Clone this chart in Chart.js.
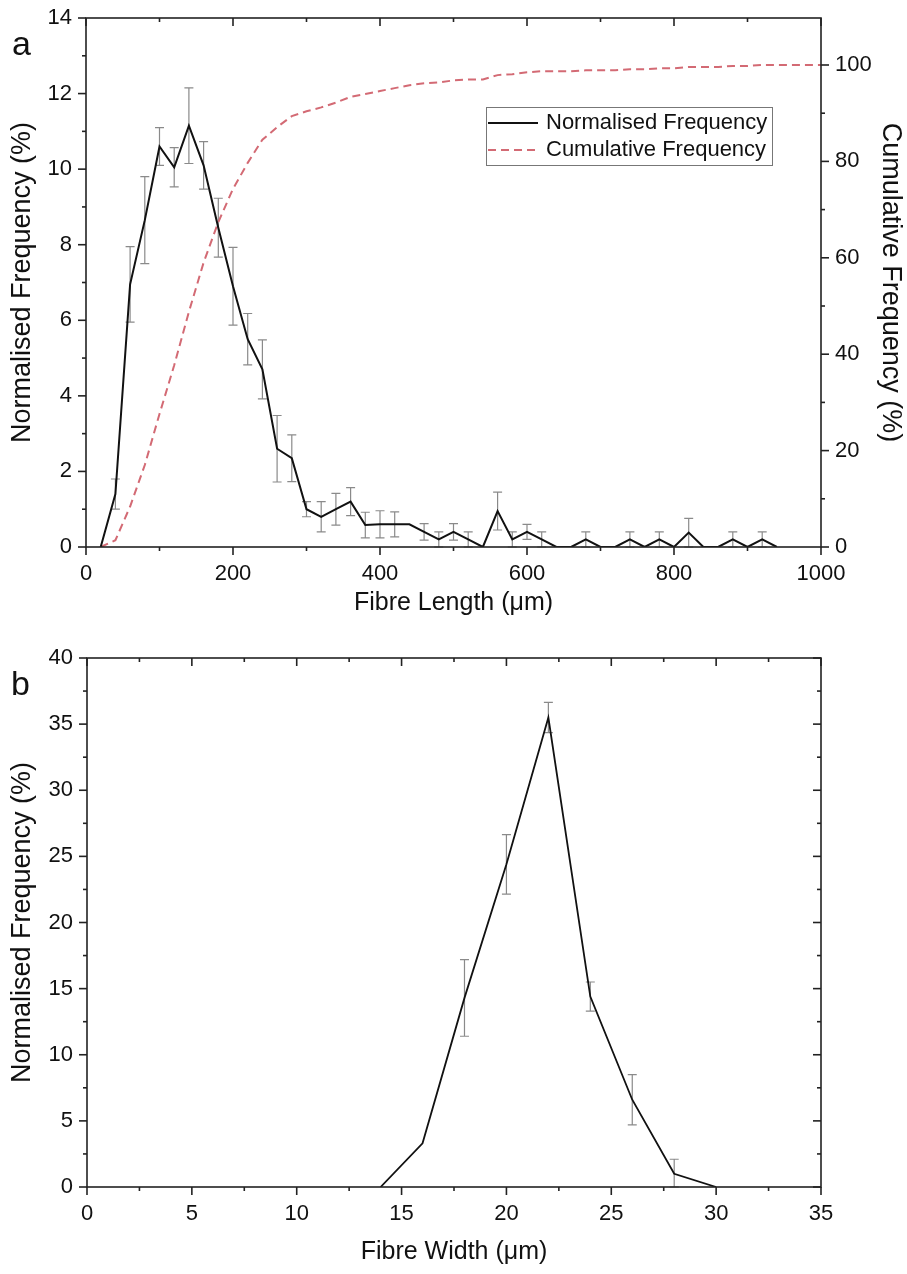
<!DOCTYPE html>
<html>
<head>
<meta charset="utf-8">
<script src="https://cdn.jsdelivr.net/npm/chart.js@4.4.1/dist/chart.umd.min.js"></script>
<style>
  body { margin: 0; background: #fff; }
  #wrap { position: relative; width: 907px; height: 1274px; }
  canvas { position: absolute; left: 0; }
  #lengthChart { top: 0; }
  #widthChart { top: 630px; }
  .panel { position: absolute; font-family: "Liberation Sans", Arial, sans-serif; font-size: 34px; line-height: 38px; color: #111; }
</style>
</head>
<body>
<div id="wrap">
  <canvas id="lengthChart" width="907" height="630"></canvas>
  <canvas id="widthChart" width="907" height="644"></canvas>
  <div class="panel" style="left:12px; top:24px;">a</div>
  <div class="panel" style="left:11px; top:664px;">b</div>
</div>
<script>
// panel a - fibre length
const lengthBins = [20, 40, 60, 80, 100, 120, 140, 160, 180, 200, 220, 240, 260, 280, 300, 320, 340, 360, 380, 400,
  420, 440, 460, 480, 500, 520, 540, 560, 580, 600, 620, 640, 660, 680, 700, 720, 740, 760, 780, 800,
  820, 840, 860, 880, 900, 920, 940];
const lengthFreq = [0, 1.4, 6.95, 8.65, 10.6, 10.05, 11.15, 10.1, 8.45, 6.9, 5.5, 4.7, 2.6, 2.35, 1.0, 0.8, 1.0, 1.2, 0.58, 0.6,
  0.6, 0.6, 0.4, 0.2, 0.4, 0.2, 0, 0.95, 0.2, 0.4, 0.2, 0, 0, 0.2, 0, 0, 0.2, 0, 0.2, 0,
  0.38, 0, 0, 0.2, 0, 0.2, 0];
const lengthErr = [0, 0.4, 1.0, 1.15, 0.5, 0.52, 1.0, 0.63, 0.78, 1.03, 0.68, 0.78, 0.88, 0.62, 0.2, 0.4, 0.42, 0.37, 0.34, 0.36,
  0.33, 0, 0.22, 0.2, 0.22, 0.2, 0, 0.5, 0.2, 0.2, 0.2, 0, 0, 0.2, 0, 0, 0.2, 0, 0.2, 0,
  0.38, 0, 0, 0.2, 0, 0.2, 0];
const cumBins = [20, 40, 60, 80, 100, 120, 140, 160, 180, 200, 220, 240, 260, 280, 300, 320, 340, 360, 380, 400,
  420, 440, 460, 480, 500, 520, 540, 560, 580, 600, 620, 640, 660, 680, 700, 720, 740, 760, 780, 800,
  820, 840, 860, 880, 900, 920, 940, 960, 980, 1000];
const cumFreq = [0, 1.4, 8.4, 17.0, 27.6, 37.7, 48.8, 59.0, 67.4, 74.3, 79.7, 84.5, 87.1, 89.4, 90.4, 91.2, 92.2, 93.4, 94.0, 94.6,
  95.2, 95.8, 96.2, 96.4, 96.8, 97.0, 97.0, 97.9, 98.1, 98.5, 98.7, 98.7, 98.7, 98.9, 98.9, 98.9, 99.1, 99.1, 99.3, 99.3,
  99.6, 99.6, 99.6, 99.8, 99.8, 100, 100, 100, 100, 100];
const lengthTicks = [0, 200, 400, 600, 800, 1000];
const freqTicksA = [0, 2, 4, 6, 8, 10, 12, 14];
const cumTicks = [0, 20, 40, 60, 80, 100];

// panel b - fibre width
const widthBins = [14, 16, 18, 20, 22, 24, 26, 28, 30];
const widthFreq = [0, 3.3, 14.3, 24.4, 35.5, 14.4, 6.6, 1.0, 0];
const widthErr = [0, 0, 2.9, 2.25, 1.15, 1.1, 1.9, 1.1, 0];
const widthTicks = [0, 5, 10, 15, 20, 25, 30, 35];
const freqTicksB = [0, 5, 10, 15, 20, 25, 30, 35, 40];

const FONT = '"Liberation Sans", Arial, sans-serif';
const INK = '#111';
const RED = '#d36a74';

// gray error bars with caps, drawn under the line
const errorBars = {
  id: 'errorBars',
  beforeDatasetsDraw(chart, args, opts) {
    const { ctx } = chart;
    const xs = chart.scales.x, ys = chart.scales.y;
    const ds = chart.data.datasets[0];
    ctx.save();
    ctx.strokeStyle = '#8a8a8a';
    ctx.lineWidth = 1.2;
    ds.data.forEach((p, i) => {
      const e = opts.errors[i];
      if (!e) return;
      const x = xs.getPixelForValue(p.x);
      const y1 = ys.getPixelForValue(p.y + e);
      const y2 = ys.getPixelForValue(Math.max(p.y - e, 0));
      ctx.beginPath();
      ctx.moveTo(x, y1); ctx.lineTo(x, y2);
      ctx.moveTo(x - 4.5, y1); ctx.lineTo(x + 4.5, y1);
      ctx.moveTo(x - 4.5, y2); ctx.lineTo(x + 4.5, y2);
      ctx.stroke();
    });
    ctx.restore();
  }
};

// box frame plus major/minor tick marks (Origin style)
const frameTicks = {
  id: 'frameTicks',
  afterDraw(chart, args, opts) {
    const { ctx, chartArea: a } = chart;
    ctx.save();
    ctx.strokeStyle = '#222';
    ctx.lineWidth = 1.6;
    ctx.strokeRect(a.left, a.top, a.right - a.left, a.bottom - a.top);
    opts.sides.forEach(s => {
      const scale = chart.scales[s.scale];
      const major = scale.ticks.map(t => t.value);
      const minor = [];
      for (let i = 1; i < major.length; i++) minor.push((major[i - 1] + major[i]) / 2);
      const mark = (v, len) => {
        const p = scale.getPixelForValue(v);
        const d = s.out ? len : -len;
        ctx.beginPath();
        if (s.edge === 'bottom') { ctx.moveTo(p, a.bottom); ctx.lineTo(p, a.bottom + d); }
        if (s.edge === 'top') { ctx.moveTo(p, a.top); ctx.lineTo(p, a.top - d); }
        if (s.edge === 'left') { ctx.moveTo(a.left, p); ctx.lineTo(a.left - d, p); }
        if (s.edge === 'right') { ctx.moveTo(a.right, p); ctx.lineTo(a.right + d, p); }
        ctx.stroke();
      };
      major.forEach(v => mark(v, 8));
      minor.forEach(v => mark(v, 4));
    });
    ctx.restore();
  }
};

const boxLegend = {
  id: 'boxLegend',
  afterDraw(chart, args, o) {
    if (!o.show) return;
    const ctx = chart.ctx;
    ctx.save();
    ctx.strokeStyle = '#777';
    ctx.lineWidth = 1;
    ctx.strokeRect(o.left + 0.5, o.top + 0.5, o.width, o.height);
    chart.data.datasets.forEach((ds, i) => {
      const y = o.top + o.rows[i];
      ctx.strokeStyle = ds.borderColor;
      ctx.lineWidth = ds.borderWidth;
      ctx.setLineDash(ds.borderDash || []);
      ctx.beginPath();
      ctx.moveTo(o.left + 2, y);
      ctx.lineTo(o.left + 52, y);
      ctx.stroke();
      ctx.setLineDash([]);
      ctx.fillStyle = INK;
      ctx.font = '22px ' + FONT;
      ctx.textBaseline = 'middle';
      ctx.fillText(ds.label, o.left + 60, y);
    });
    ctx.restore();
  }
};

function pts(xs, ys) {
  return xs.map((x, i) => ({ x: x, y: ys[i] }));
}

// fixed-size axis box; drop Chart.js' auto label padding so the plot area stays put
function fixBox(w, h) {
  return s => {
    if (w) s.width = w;
    if (h) s.height = h;
    s.paddingTop = 0; s.paddingBottom = 0; s.paddingLeft = 0; s.paddingRight = 0;
  };
}

function axis(opts, titleText, titleSize, titlePad) {
  return Object.assign({
    type: 'linear',
    grid: { display: false, drawTicks: false },
    border: { display: false },
    ticks: { color: INK, font: { size: 22, family: FONT }, padding: 14, callback: v => String(v) },
    title: { display: true, text: titleText, color: INK, font: { size: titleSize, family: FONT }, padding: titlePad }
  }, opts);
}

Chart.defaults.font.family = FONT;

new Chart(document.getElementById('lengthChart'), {
  type: 'line',
  data: {
    datasets: [{
      label: 'Normalised Frequency',
      data: pts(lengthBins, lengthFreq),
      borderColor: INK,
      borderWidth: 2,
      pointRadius: 0,
      tension: 0,
      yAxisID: 'y'
    }, {
      label: 'Cumulative Frequency',
      data: pts(cumBins, cumFreq),
      borderColor: RED,
      borderWidth: 2,
      borderDash: [8, 5],
      pointRadius: 0,
      tension: 0,
      yAxisID: 'y2'
    }]
  },
  options: {
    responsive: false,
    animation: false,
    layout: { padding: { top: 18, left: 0, right: 0, bottom: 0 } },
    plugins: {
      legend: { display: false },
      tooltip: { enabled: false },
      errorBars: { errors: lengthErr },
      frameTicks: { sides: [
        { scale: 'x', edge: 'bottom', out: true },
        { scale: 'x', edge: 'top', out: false },
        { scale: 'y', edge: 'left', out: true },
        { scale: 'y2', edge: 'right', out: true }
      ] },
      boxLegend: { show: true, left: 486, top: 107, width: 286, height: 58, rows: [16, 43] }
    },
    scales: {
      x: axis({
        position: 'bottom', min: 0, max: 1000,
        afterBuildTicks: s => { s.ticks = lengthTicks.map(v => ({ value: v })); },
        afterFit: fixBox(0, 83)
      }, 'Fibre Length (\u03bcm)', 25, { top: 0, bottom: 12 }),
      y: axis({
        position: 'left', min: 0, max: 14,
        afterBuildTicks: s => { s.ticks = freqTicksA.map(v => ({ value: v })); },
        afterFit: fixBox(86, 0)
      }, 'Normalised Frequency (%)', 27, { top: 6, bottom: 0 }),
      y2: axis({
        position: 'right', min: 0, max: 109.75,
        afterBuildTicks: s => { s.ticks = cumTicks.map(v => ({ value: v })); },
        afterFit: fixBox(86, 0)
      }, 'Cumulative Frequency (%)', 27, { top: 0, bottom: 0 })
    }
  },
  plugins: [errorBars, frameTicks, boxLegend]
});

new Chart(document.getElementById('widthChart'), {
  type: 'line',
  data: {
    datasets: [{
      label: 'Normalised Frequency',
      data: pts(widthBins, widthFreq),
      borderColor: INK,
      borderWidth: 1.8,
      pointRadius: 0,
      tension: 0
    }]
  },
  options: {
    responsive: false,
    animation: false,
    layout: { padding: { top: 28, left: 0, right: 86, bottom: 0 } },
    plugins: {
      legend: { display: false },
      tooltip: { enabled: false },
      errorBars: { errors: widthErr },
      frameTicks: { sides: [
        { scale: 'x', edge: 'bottom', out: true },
        { scale: 'x', edge: 'top', out: false },
        { scale: 'y', edge: 'left', out: true },
        { scale: 'y', edge: 'right', out: false }
      ] },
      boxLegend: { show: false }
    },
    scales: {
      x: axis({
        position: 'bottom', min: 0, max: 35,
        afterBuildTicks: s => { s.ticks = widthTicks.map(v => ({ value: v })); },
        afterFit: fixBox(0, 87)
      }, 'Fibre Width (\u03bcm)', 25, { top: 0, bottom: 7 }),
      y: axis({
        position: 'left', min: 0, max: 40,
        afterBuildTicks: s => { s.ticks = freqTicksB.map(v => ({ value: v })); },
        afterFit: fixBox(87, 0)
      }, 'Normalised Frequency (%)', 27, { top: 6, bottom: 0 })
    }
  },
  plugins: [errorBars, frameTicks, boxLegend]
});
</script>
</body>
</html>
